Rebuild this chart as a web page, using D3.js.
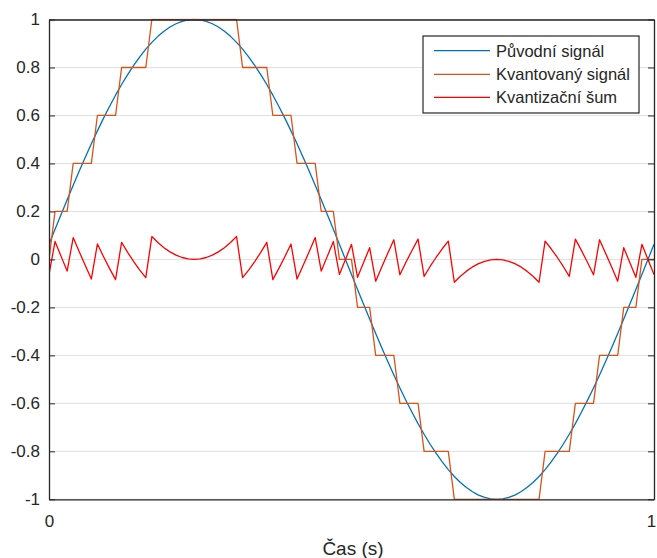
<!DOCTYPE html>
<html>
<head>
<meta charset="utf-8">
<script src="https://cdn.jsdelivr.net/npm/d3@7"></script>
<style>
html,body{margin:0;padding:0;background:#fff;}
svg{display:block;}
text{font-family:"Liberation Sans",Arial,Helvetica,sans-serif;fill:#262626;}
</style>
</head>
<body>
<svg id="chart" width="657" height="558"></svg>
<script>
const time = [0,0.01,0.02,0.03,0.04,0.05,0.06,0.07,0.08,0.09,0.10,0.11,0.12,0.13,0.14,0.15,0.16,0.17,0.18,0.19,0.20,0.21,0.22,0.23,0.24,0.25,0.26,0.27,0.28,0.29,0.30,0.31,0.32,0.33,0.34,0.35,0.36,0.37,0.38,0.39,0.40,0.41,0.42,0.43,0.44,0.45,0.46,0.47,0.48,0.49,0.50,0.51,0.52,0.53,0.54,0.55,0.56,0.57,0.58,0.59,0.60,0.61,0.62,0.63,0.64,0.65,0.66,0.67,0.68,0.69,0.70,0.71,0.72,0.73,0.74,0.75,0.76,0.77,0.78,0.79,0.80,0.81,0.82,0.83,0.84,0.85,0.86,0.87,0.88,0.89,0.90,0.91,0.92,0.93,0.94,0.95,0.96,0.97,0.98,0.99,1.00];

const original = [0.0628,0.1253,0.1874,0.2487,0.3090,0.3681,0.4258,0.4818,0.5358,0.5878,0.6374,0.6845,0.7290,0.7705,0.8090,0.8443,0.8763,0.9048,0.9298,0.9511,0.9686,0.9823,0.9921,0.9980,1.0000,0.9980,0.9921,0.9823,0.9686,0.9511,0.9298,0.9048,0.8763,0.8443,0.8090,0.7705,0.7290,0.6845,0.6374,0.5878,0.5358,0.4818,0.4258,0.3681,0.3090,0.2487,0.1874,0.1253,0.0628,0.0000,-0.0628,-0.1253,-0.1874,-0.2487,-0.3090,-0.3681,-0.4258,-0.4818,-0.5358,-0.5878,-0.6374,-0.6845,-0.7290,-0.7705,-0.8090,-0.8443,-0.8763,-0.9048,-0.9298,-0.9511,-0.9686,-0.9823,-0.9921,-0.9980,-1.0000,-0.9980,-0.9921,-0.9823,-0.9686,-0.9511,-0.9298,-0.9048,-0.8763,-0.8443,-0.8090,-0.7705,-0.7290,-0.6845,-0.6374,-0.5878,-0.5358,-0.4818,-0.4258,-0.3681,-0.3090,-0.2487,-0.1874,-0.1253,-0.0628,0.0000,0.0628];

const quantized = [0,0.2,0.2,0.2,0.4,0.4,0.4,0.4,0.6,0.6,0.6,0.6,0.8,0.8,0.8,0.8,0.8,1,1,1,1,1,1,1,1,1,1,1,1,1,1,1,0.8,0.8,0.8,0.8,0.8,0.6,0.6,0.6,0.6,0.4,0.4,0.4,0.4,0.2,0.2,0.2,0,0,0,-0.2,-0.2,-0.2,-0.4,-0.4,-0.4,-0.4,-0.6,-0.6,-0.6,-0.6,-0.8,-0.8,-0.8,-0.8,-0.8,-1,-1,-1,-1,-1,-1,-1,-1,-1,-1,-1,-1,-1,-1,-1,-0.8,-0.8,-0.8,-0.8,-0.8,-0.6,-0.6,-0.6,-0.6,-0.4,-0.4,-0.4,-0.4,-0.2,-0.2,-0.2,0,0,0];

const noise = [-0.0628,0.0747,0.0126,-0.0487,0.0910,0.0319,-0.0258,-0.0818,0.0642,0.0122,-0.0374,-0.0845,0.0710,0.0295,-0.0090,-0.0443,-0.0763,0.0952,0.0702,0.0489,0.0314,0.0177,0.0079,0.0020,0.0000,0.0020,0.0079,0.0177,0.0314,0.0489,0.0702,0.0952,-0.0763,-0.0443,-0.0090,0.0295,0.0710,-0.0845,-0.0374,0.0122,0.0642,-0.0818,-0.0258,0.0319,0.0910,-0.0487,0.0126,0.0747,-0.0628,0.0000,0.0628,-0.0747,-0.0126,0.0487,-0.0910,-0.0319,0.0258,0.0818,-0.0642,-0.0122,0.0374,0.0845,-0.0710,-0.0295,0.0090,0.0443,0.0763,-0.0952,-0.0702,-0.0489,-0.0314,-0.0177,-0.0079,-0.0020,0.0000,-0.0020,-0.0079,-0.0177,-0.0314,-0.0489,-0.0702,-0.0952,0.0763,0.0443,0.0090,-0.0295,-0.0710,0.0845,0.0374,-0.0122,-0.0642,0.0818,0.0258,-0.0319,-0.0910,0.0487,-0.0126,-0.0747,0.0628,0.0000,-0.0628];

const yTicks = [-1,-0.8,-0.6,-0.4,-0.2,0,0.2,0.4,0.6,0.8,1];
const yTickLabels = ["-1","-0.8","-0.6","-0.4","-0.2","0","0.2","0.4","0.6","0.8","1"];
const xTicks = [0,1];
const xTickLabels = ["0","1"];
const seriesNames = ["Původní signál","Kvantovaný signál","Kvantizační šum"];
const seriesColors = ["#0072BD","#D95319","#FF0000"];
const xLabel = "Čas (s)";

const svg = d3.select("#chart");
const L = 49, R = 654, T = 19.5, B = 499.3;
const x = d3.scaleLinear().domain([0,1]).range([L,R]);
const y = d3.scaleLinear().domain([-1,1]).range([B,T]);
const axisColor = "#262626";

// grid
svg.append("g").selectAll("line").data(yTicks).join("line")
  .attr("x1",L).attr("x2",R)
  .attr("y1",d=>y(d)).attr("y2",d=>y(d))
  .attr("stroke","#e0e0e0").attr("stroke-width",1);

// series
const series = [original, quantized, noise];
svg.append("clipPath").attr("id","clip").append("rect")
  .attr("x",L).attr("y",T-1).attr("width",R-L).attr("height",B-T+2);
const lineGen = vals => d3.line().x((d,i)=>x(time[i])).y(d=>y(d))(vals);
const gLines = svg.append("g").attr("clip-path","url(#clip)");
series.forEach((s,k)=>{
  gLines.append("path").attr("d",lineGen(s)).attr("fill","none")
    .attr("stroke",seriesColors[k]).attr("stroke-width",1.3)
    .attr("stroke-linejoin","round");
});

// axes
const yAxisL = d3.axisLeft(y).tickValues(yTicks).tickFormat((d,i)=>yTickLabels[i]).tickSizeInner(-6).tickSizeOuter(0).tickPadding(9);
const gy = svg.append("g").attr("transform",`translate(${L},0)`).call(yAxisL);
const yAxisR = d3.axisRight(y).tickValues(yTicks).tickFormat("").tickSizeInner(-6).tickSizeOuter(0);
const gyr = svg.append("g").attr("transform",`translate(${R},0)`).call(yAxisR);
const xAxisB = d3.axisBottom(x).tickValues(xTicks).tickFormat((d,i)=>xTickLabels[i]).tickSizeInner(-6).tickSizeOuter(0).tickPadding(9);
const gx = svg.append("g").attr("transform",`translate(0,${B})`).call(xAxisB);
const xAxisT = d3.axisTop(x).tickValues(xTicks).tickFormat("").tickSizeInner(-6).tickSizeOuter(0);
const gxt = svg.append("g").attr("transform",`translate(0,${T})`).call(xAxisT);
[gy,gyr,gx,gxt].forEach(g=>{
  g.selectAll(".domain").attr("stroke",axisColor).attr("stroke-width",1.3);
  g.selectAll(".tick line").attr("stroke",axisColor).attr("stroke-width",1);
  g.selectAll(".tick text").attr("font-size","17px").attr("fill",axisColor)
   .style("font-family","'Liberation Sans',Arial,sans-serif");
});
gx.selectAll(".tick text").attr("dy","1.1em").attr("dx",(d)=>d===1?"-3":"0");

// x label
svg.append("text").attr("x",353).attr("y",555).attr("text-anchor","middle")
  .attr("font-size","19px").text(xLabel);

// legend
const lg = svg.append("g");
lg.append("rect").attr("x",423).attr("y",36).attr("width",216).attr("height",77)
  .attr("fill","#fff").attr("stroke",axisColor).attr("stroke-width",1.2);
const ly = [50.7,74.3,97.3];
seriesNames.forEach((n,k)=>{
  lg.append("line").attr("x1",434).attr("x2",490).attr("y1",ly[k]).attr("y2",ly[k])
    .attr("stroke",seriesColors[k]).attr("stroke-width",1.3);
  lg.append("text").attr("x",496).attr("y",ly[k]+6).attr("font-size","16.5px").attr("fill","#000").text(n);
});
</script>
</body>
</html>
